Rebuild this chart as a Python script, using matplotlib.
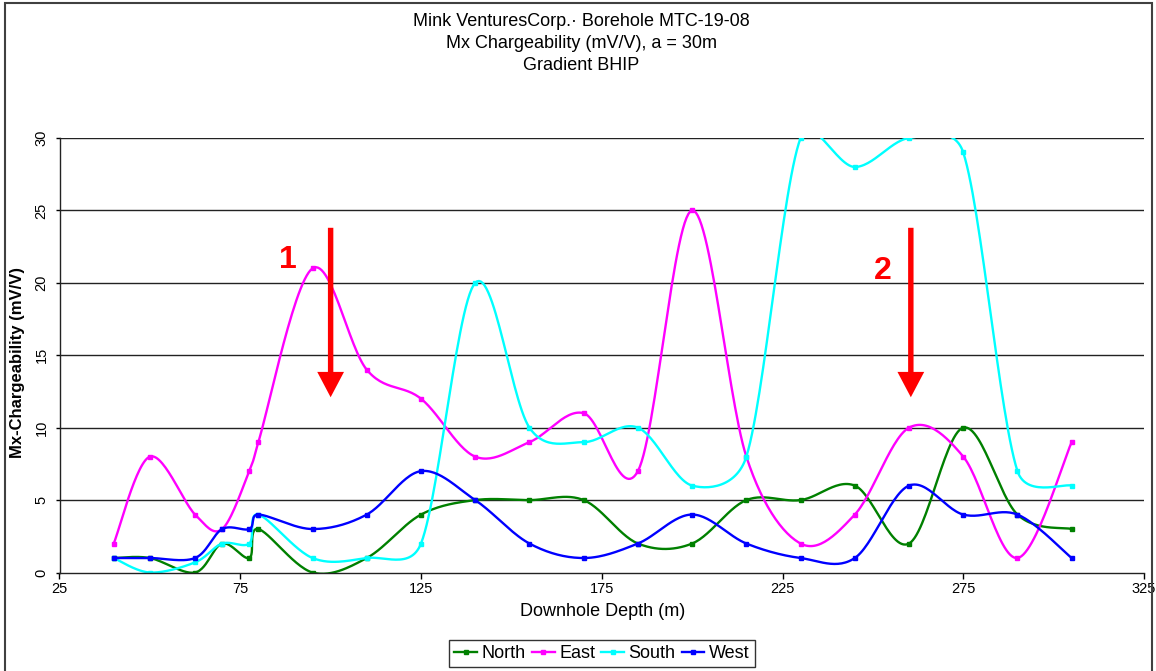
import matplotlib.pyplot as plt
import numpy as np
from matplotlib.patches import Rectangle, FancyArrow

plt.rcParams['font.family'] = ['Liberation Sans', 'DejaVu Sans']

#######################################
## Data
#######################################

depth = [40, 50, 62.5, 70, 77.5, 80, 95, 110, 125, 140, 155, 170, 185,
         200, 215, 230, 245, 260, 275, 290, 305]
north = [1, 1, 0, 2, 1, 3, 0, 1, 4, 5, 5, 5, 2, 2, 5, 5, 6, 2, 10, 4, 3]
east = [2, 8, 4, 3, 7, 9, 21, 14, 12, 8, 9, 11, 7, 25, 8, 2, 4, 10, 8, 1, 9]
south = [1, 0, 0.7, 2, 2, 4, 1, 1, 2, 20, 10, 9, 10, 6, 8, 30, 28, 30, 29, 7, 6]
west = [1, 1, 1, 3, 3, 4, 3, 4, 7, 5, 2, 1, 2, 4, 2, 1, 1, 6, 4, 4, 1]

series_names = ['North', 'East', 'South', 'West']
series_colors = ['#008000', '#ff00ff', '#00ffff', '#0000ff']

x_ticks = [25, 75, 125, 175, 225, 275, 325]
y_ticks = [0, 5, 10, 15, 20, 25, 30]

# annotation arrows at these depths, with their labels
arrow_depths = [100, 260.5]
arrow_labels = ['1', '2']
label_pos = [(88.1, 21.6), (252.8, 20.8)]


def smooth_line(ax, xs, ys, n=30):
    """Excel style smoothed line: bezier segments with 1/6 tangents,
    arms limited to half the segment length (measured on screen)
    """
    p = np.column_stack([xs, ys]).astype(float)
    p = np.vstack([p[:1], p, p[-1:]])
    s = ax.transData.transform(p)   # pixel positions for distances
    dist = lambda a, b: np.hypot(*(s[a] - s[b]))
    t = np.linspace(0, 1, n)[:, None]
    out = []
    for i in range(1, len(p) - 2):
        d12 = dist(i, i + 1)
        d02 = dist(i - 1, i + 1)
        d13 = dist(i, i + 2)
        f0 = 1 / 6. if d02 / 6 < d12 / 2 else d12 / (2 * d02)
        f1 = 1 / 6. if d13 / 6 < d12 / 2 else d12 / (2 * d13)
        p0, p1, p2, p3 = p[i - 1], p[i], p[i + 1], p[i + 2]
        c1 = p1 + (p2 - p0) * f0
        c2 = p2 - (p3 - p1) * f1
        seg = ((1 - t) ** 3 * p1 + 3 * (1 - t) ** 2 * t * c1
               + 3 * (1 - t) * t ** 2 * c2 + t ** 3 * p2)
        out.append(seg if i == 1 else seg[1:])
    out = np.vstack(out)
    return out[:, 0], out[:, 1]


fig = plt.figure(figsize=(11.56, 6.71), dpi=100)
ax = fig.add_axes([59.5 / 1156, 98.5 / 671, (1144 - 59.5) / 1156, 434.5 / 671])
ax.set_xlim(25, 325)
ax.set_ylim(0, 30)

for name, vals, col in zip(series_names, [north, east, south, west], series_colors):
    sx, sy = smooth_line(ax, depth, vals)
    ax.plot(sx, sy, color=col, lw=1.7, solid_capstyle='round')
    ax.plot(depth, vals, ls='none', marker='s', ms=3.3, color=col)
    # proxy for the legend
    ax.plot([], [], color=col, lw=1.7, marker='s', ms=3.3, label=name)

for xa in arrow_depths:
    ax.add_patch(FancyArrow(xa, 23.8, 0, -11.7, width=1.5, head_width=7.4,
                            head_length=1.75, length_includes_head=True,
                            color='#ff0000', lw=0, zorder=5))
for (lx, ly), lab in zip(label_pos, arrow_labels):
    ax.text(lx, ly, lab, color='#ff0000', fontsize=23, fontweight='bold',
            ha='center', va='center')

ax.set_xticks(x_ticks)
ax.set_yticks(y_ticks)
for yv in y_ticks[1:]:
    ax.axhline(yv, color='#222222', lw=1.0, zorder=0)

for s in ['top', 'right']:
    ax.spines[s].set_visible(False)
for s in ['left', 'bottom']:
    ax.spines[s].set_color('#222222')
    ax.spines[s].set_linewidth(1.0)

ax.tick_params(axis='x', direction='out', length=4, width=1, pad=3,
               labelsize=10.5, colors='#000000')
ax.tick_params(axis='y', direction='out', length=3, width=1, pad=5,
               labelsize=10.5, labelrotation=90)
for lab in ax.get_yticklabels():
    lab.set_va('center')

fig.text(603 / 1156, 1 - 611 / 671, 'Downhole Depth (m)', fontsize=13,
         ha='center', va='center')
fig.text(18 / 1156, 1 - 362 / 671, 'Mx-Chargeability (mV/V)', fontsize=12,
         fontweight='bold', rotation=90, ha='center', va='center')

titles = ['Mink VenturesCorp.\u00b7 Borehole MTC-19-08',
          'Mx Chargeability (mV/V), a = 30m', 'Gradient BHIP']
for i, tl in enumerate(titles):
    fig.text(581 / 1156, 1 - (22 + 22 * i) / 671, tl, fontsize=13,
             ha='center', va='center')

leg = ax.legend(loc='center', bbox_to_anchor=(602 / 1156, 1 - 653.5 / 671),
                bbox_transform=fig.transFigure, ncol=4, frameon=True,
                fancybox=False, edgecolor='#000000', fontsize=13,
                handlelength=1.25, handletextpad=0.25, columnspacing=0.35,
                borderpad=0.3, borderaxespad=0, numpoints=1)
leg.get_frame().set_linewidth(1.0)

# outer chart border
fig.patches.append(Rectangle((5 / 1156, -0.01), 1147 / 1156, 1.01 - 3 / 671,
                             transform=fig.transFigure, fill=False,
                             edgecolor='#404040', lw=1.5))

fig.savefig('out.png', dpi=100)
